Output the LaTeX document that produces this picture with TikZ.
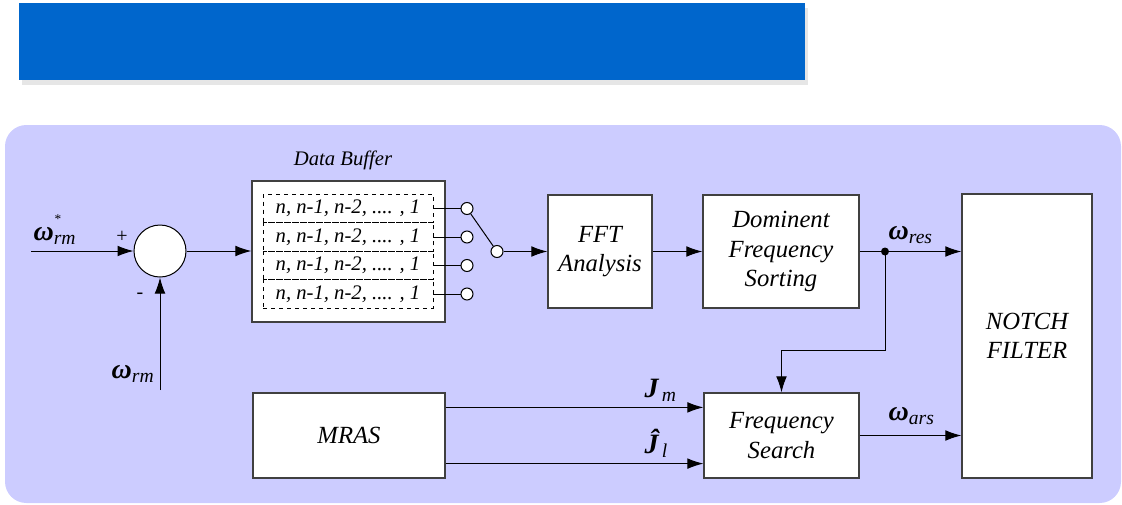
\documentclass[tikz,border=0pt]{standalone}
\usepackage{fontspec}
\setmainfont{Liberation Serif}
\usetikzlibrary{arrows.meta}
\usepackage{xcolor}
\definecolor{bannerblue}{HTML}{0066CC}
\definecolor{panelblue}{HTML}{CCCCFF}
\definecolor{shadowgray}{HTML}{E6E6E6}
\definecolor{edgegray}{HTML}{404040}
\newcommand{\sig}[2]{{\bfseries\itshape #1}\textsubscript{\itshape #2}}

\begin{document}
\begin{tikzpicture}[
x=0.75pt, y=-0.75pt,
box/.style={draw=edgegray,
line width=0.9pt,
fill=white,
rectangle,
inner sep=0pt,
align=center,
font=\itshape\fontsize{18.5}{22}\selectfont},
row/.style={draw=black,
dashed,
line width=0.6pt,
rectangle,
minimum width=127.5pt,
minimum height=21.4pt,
inner sep=0pt,
font=\itshape\fontsize{15.5}{18}\selectfont},
port/.style={draw=black, fill=white, circle, line width=0.75pt, minimum size=9pt, inner sep=0pt},
arrow/.style={-{Latex[length=12pt, width=8pt]}, line width=0.75pt},
wire/.style={line width=0.75pt},
siglabel/.style={font=\fontsize{21}{24}\selectfont, inner sep=1pt}
]

\useasboundingbox (0,0) rectangle (1122,504);
\fill[shadowgray] (22,8) rectangle (808,85);
\fill[bannerblue] (19,3) rectangle (805,80);
\fill[panelblue, rounded corners=16pt] (5,125) rectangle (1121,503);

\node[circle, draw=black, fill=white, line width=0.75pt, minimum size=39pt, inner sep=0pt] (sum) at (160,251) {};
\node[box, minimum width=144.75pt, minimum height=105.75pt] (buffer) at (348.5,251.5) {};
\node[font=\itshape\fontsize{15.5}{18}\selectfont] (buflabel) at (343,160) {Data Buffer};
\node[box, minimum width=78pt, minimum height=84.75pt] (fft) at (600,251.5) {FFT\\Analysis};
\node[box, minimum width=117pt, minimum height=84.75pt] (dom) at (781,251.5) {Dominent\\Frequency\\Sorting};
\node[box, minimum width=97.5pt, minimum height=213pt] (notch) at (1027,336) {NOTCH\\FILTER};
\node[box, minimum width=116.25pt, minimum height=63.75pt] (search) at (781.5,435.5) {Frequency\\Search};
\node[box, minimum width=144pt, minimum height=63.75pt] (mras) at (349,435.5) {MRAS};

\foreach \i/\y in {1/208.5, 2/237, 3/265.5, 4/294} {
  \node[row] (row\i) at (348,\y) {n, n-1, n-2, .... , 1};
  \node[port] (port\i) at (467,\y) {};
  \draw[wire] (row\i.east) -- (port\i.west);
}
\node[port] (pole) at (497,251.5) {};
\draw[wire] (port1) -- (pole);

\coordinate (ref) at (31,251);
\coordinate (fb) at (160,390);
\draw[arrow] (ref) -- (sum);
\draw[arrow] (fb) -- (sum);
\node[font=\fontsize{15}{18}\selectfont] (plus) at (122,237) {+};
\node[font=\fontsize{15}{18}\selectfont] (minus) at (140,296) {-};
\node[siglabel, anchor=west] (wref) at (32,236) {\sig{ω}{rm}};
\node[font=\fontsize{10}{10}\selectfont, inner sep=0pt] (wstar) at (58,219) {*};
\node[siglabel, anchor=east] (wfb) at (156,374) {\sig{ω}{rm}};

\draw[arrow] (sum) -- (sum -| buffer.west);
\draw[arrow] (pole) -- (pole -| fft.west);
\draw[arrow] (fft) -- (dom);

\coordinate (tap) at (885,251.5);
\coordinate (bend) at (885,350);
\draw[arrow] (dom.east) -- (dom.east -| notch.west);
\fill (tap) circle[radius=3pt];
\draw[arrow] (tap) -- (bend) -| (search.north);
\node[siglabel, anchor=west] (wres) at (887,235) {\sig{ω}{res}};

\path ([yshift=-11.25pt]mras.north east) coordinate (jmout)
      ([yshift=11.25pt]mras.south east) coordinate (jlout);
\draw[arrow] (jmout) -- (jmout -| search.west);
\draw[arrow] (jlout) -- (jlout -| search.west);
\node[siglabel, anchor=west] (jm) at (643,390) {\sig{J}{\,m}};
\node[siglabel, anchor=west] (jl) at (643,443) {\sig{Ĵ}{\,l}};

\draw[arrow] (search) -- (search -| notch.west);
\node[siglabel, anchor=west] (wars) at (887,416) {\sig{ω}{ars}};

\end{tikzpicture}
\end{document}
